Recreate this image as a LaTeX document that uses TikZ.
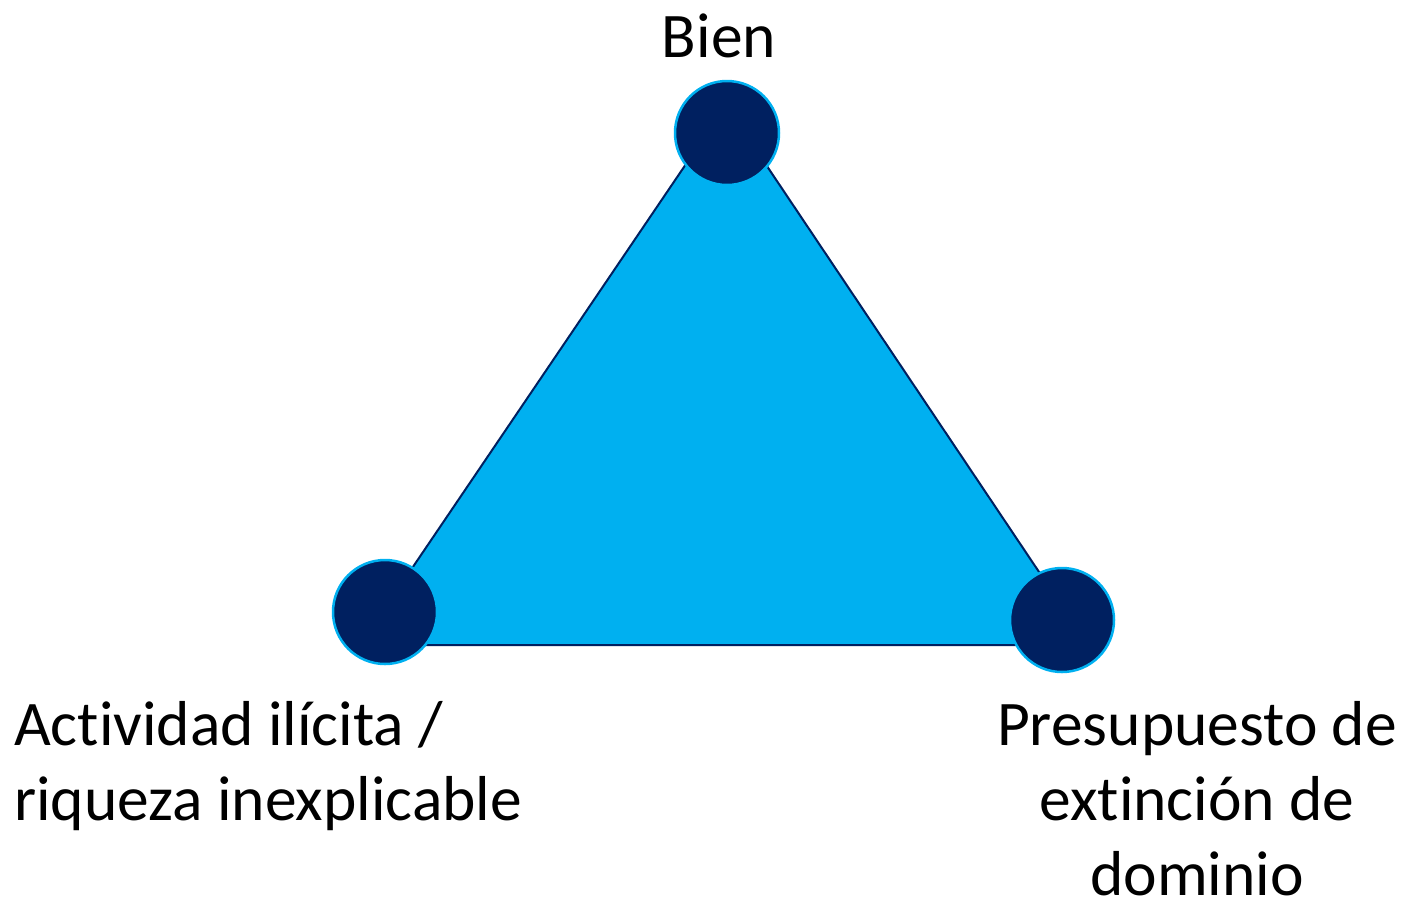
\documentclass[tikz,border=0pt]{standalone}
\usepackage{fontspec}
\setmainfont{Carlito}[Ligatures=NoCommon]
\definecolor{lblue}{HTML}{00B0F0}
\definecolor{navy}{HTML}{002060}
\begin{document}
\begin{tikzpicture}[x=1pt,y=-1pt,
  dot/.style={circle,fill=navy,draw=lblue,line width=2.5pt,minimum size=104pt,inner sep=0pt},
  lbl/.style={font=\fontsize{63.5}{75}\selectfont,inner sep=0pt},
  tri/.style={fill=lblue,draw=navy,line width=2pt,line join=miter}]
\useasboundingbox (0,0) rectangle (1406,898);
\coordinate (vt) at (726,105);
\coordinate (vl) at (360,645);
\coordinate (vr) at (1088,645);
\draw[tri] (vt) -- (vl) -- (vr) -- cycle;
\node[dot] (top) at (727,133) {};
\node[dot] (left) at (385,612) {};
\node[dot] (right) at (1062,620) {};
\node[lbl,anchor=base] (tbien) at (719,57) {Bien};
\node[lbl,anchor=base west,align=left] (tleft) at (14,820) {Actividad ilícita /\\riqueza inexplicable};
\node[lbl,anchor=base,align=center] (tright) at (1197,895) {Presupuesto de\\extinción de\\dominio};
\end{tikzpicture}
\end{document}
